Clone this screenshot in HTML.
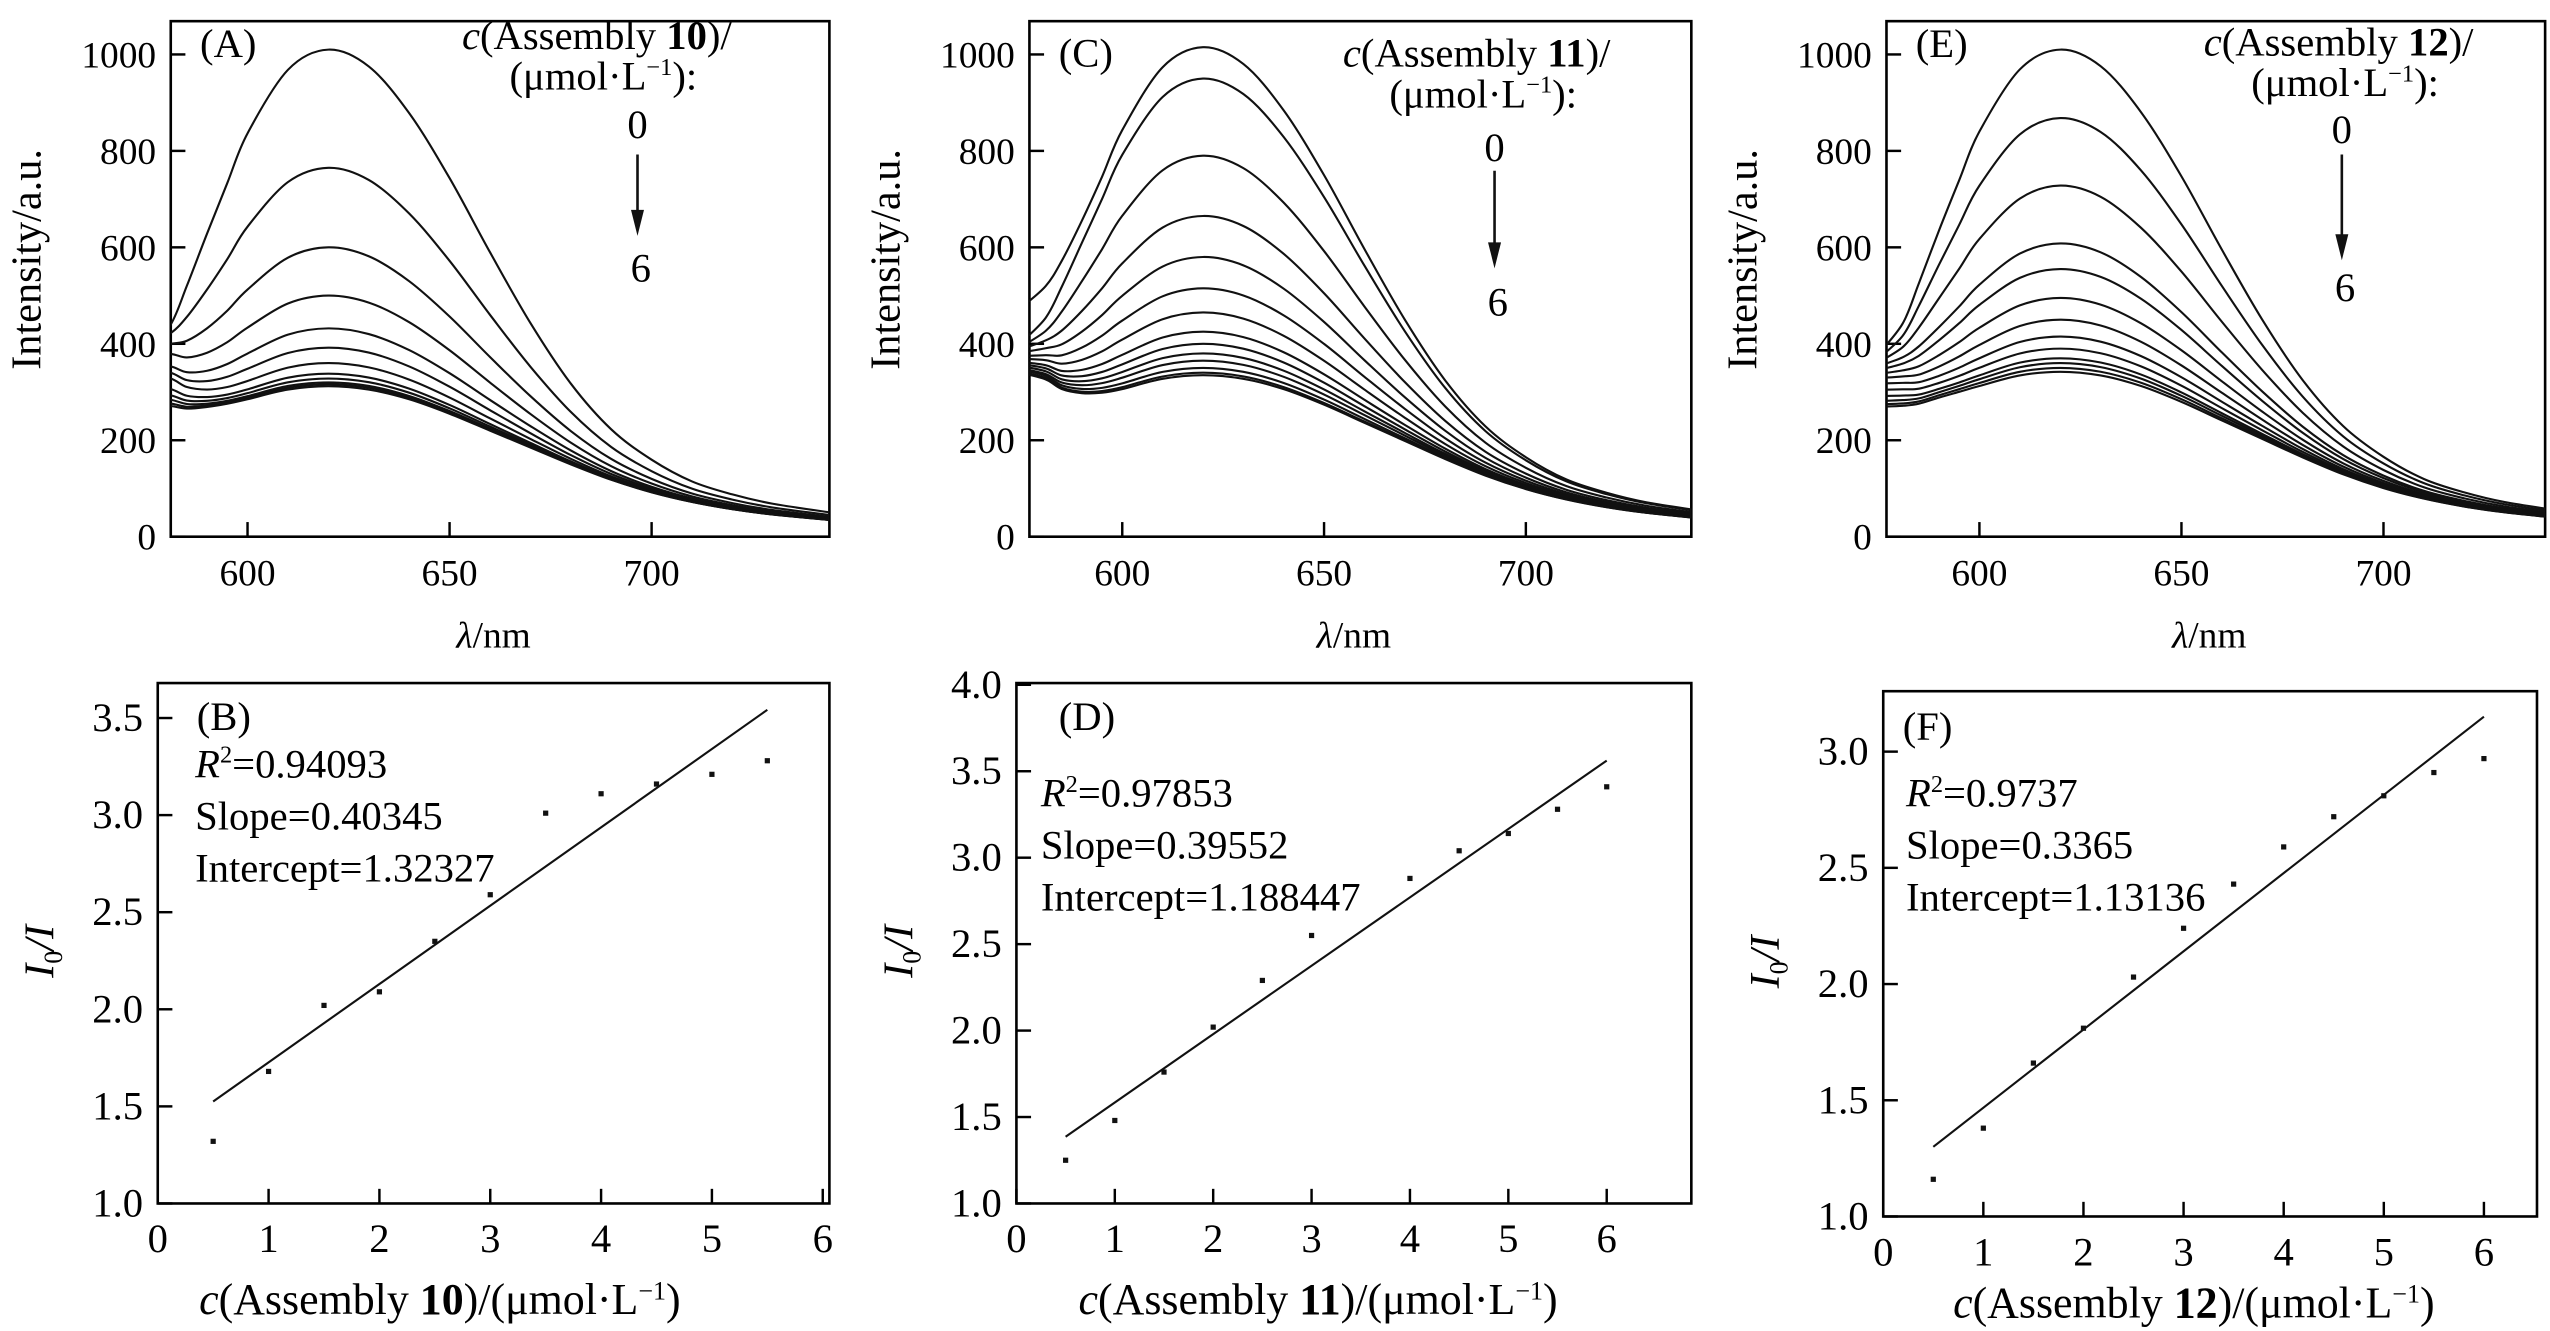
<!DOCTYPE html>
<html><head><meta charset="utf-8">
<style>
html,body{margin:0;padding:0;background:#fff;}
svg{display:block;font-family:"Liberation Serif",serif;}
</style></head>
<body>
<svg id="fig" width="2550" height="1331" viewBox="0 0 1568 818.4" xmlns="http://www.w3.org/2000/svg">
<defs>
<clipPath id="clipA"><rect x="105" y="13" width="405" height="317"/></clipPath>
<clipPath id="clipC"><rect x="633" y="13" width="407" height="317"/></clipPath>
<clipPath id="clipE"><rect x="1160" y="13" width="405" height="317"/></clipPath>
</defs>
<g id="root"></g>
</svg>
<script>
// ---- spectral data (shared shapes) ----
const wavelengths = [575,581,585,590,595,600,610,620,630,640,650,660,670,680,690,700,710,720,730,745];
const baselineShape = [280,275,268,270,276,285,305,312,305,285,255,220,185,150,118,92,72,57,46,34];
const humpShape = [0.22,0.30,0.40,0.53,0.66,0.79,0.95,1.0,0.96,0.85,0.70,0.53,0.37,0.24,0.15,0.097,0.061,0.044,0.032,0.022];
const edgeShape = [1.25,1,0.6,0.25,0.07,0,0,0,0,0,0,0,0,0,0,0,0,0,0,0];
// per-curve peak intensities and left-edge intensities
const peaksA = [1010,765,600,500,432,392,360,338,328,320,316,312];
const leftsA = [440,422,400,379,353,340,328,306,293,284,276,271];
const peaksC = [1015,950,790,665,580,515,465,425,400,380,365,350,340,335];
const leftsC = [490,420,405,395,385,375,368,360,355,350,345,342,338,335];
const peaksE = [1010,868,728,608,555,495,450,415,390,370,360,350,342];
const leftsE = [400,385,372,360,350,340,330,318,305,292,282,275,270];
// ---- Stern-Volmer data ----
const concB = [0.5,1,1.5,2,2.5,3,3.5,4,4.5,5,5.5];
const ratioB = [1.32,1.68,2.02,2.09,2.35,2.59,3.01,3.11,3.16,3.21,3.28];
const fitB = [1.32327,0.40345];
const concD = [0.5,1,1.5,2,2.5,3,4,4.5,5,5.5,6];
const ratioD = [1.25,1.48,1.76,2.02,2.29,2.55,2.88,3.04,3.14,3.28,3.41];
const fitD = [1.188447,0.39552];
const concF = [0.5,1,1.5,2,2.5,3,3.5,4,4.5,5,5.5,6];
const ratioF = [1.16,1.38,1.66,1.81,2.03,2.24,2.43,2.59,2.72,2.81,2.91,2.97];
const fitF = [1.13136,0.3365];
const specYTicks = [0,200,400,600,800,1000];
const specXTicks = [600,650,700];
const ticksB = [1.0,1.5,2.0,2.5,3.0,3.5];
const ticksD = [1.0,1.5,2.0,2.5,3.0,3.5,4.0];
const ticksF = [1.0,1.5,2.0,2.5,3.0];
const concTicks = [0,1,2,3,4,5,6];

const NS="http://www.w3.org/2000/svg";
const root=document.getElementById('root');
function mk(tag,attrs,parent){const e=document.createElementNS(NS,tag);for(const k in attrs)e.setAttribute(k,attrs[k]);(parent||root).appendChild(e);return e;}
function interp(xs,ys,x){if(x<=xs[0])return ys[0];for(let i=1;i<xs.length;i++){if(x<=xs[i]){const t=(x-xs[i-1])/(xs[i]-xs[i-1]);return ys[i-1]+t*(ys[i]-ys[i-1]);}}return ys[ys.length-1];}
function smoothPath(pts){let d='M'+pts[0][0].toFixed(2)+','+pts[0][1].toFixed(2);for(let i=0;i<pts.length-1;i++){const p0=pts[Math.max(0,i-1)],p1=pts[i],p2=pts[i+1],p3=pts[Math.min(pts.length-1,i+2)];const c1=[p1[0]+(p2[0]-p0[0])/6,p1[1]+(p2[1]-p0[1])/6],c2=[p2[0]-(p3[0]-p1[0])/6,p2[1]-(p3[1]-p1[1])/6];d+='C'+c1[0].toFixed(2)+','+c1[1].toFixed(2)+' '+c2[0].toFixed(2)+','+c2[1].toFixed(2)+' '+p2[0].toFixed(2)+','+p2[1].toFixed(2);}return d;}
function fmt(v,d){return v.toFixed(d);}

function axes(p,g,xticks,yticks,ydec,xdec,fs){
  const sx=v=>p.x0+(v-p.xmin)/(p.xmax-p.xmin)*(p.x1-p.x0);
  const sy=v=>p.y1-(v-p.ymin)/(p.ymax-p.ymin)*(p.y1-p.y0);
  const box=mk('rect',{x:p.x0,y:p.y0,width:p.x1-p.x0,height:p.y1-p.y0,fill:'none',stroke:'#000','stroke-width':1.6},g);
  
  yticks.forEach(v=>{const y=sy(v);
    const t=mk('line',{x1:p.x0,x2:p.x0+9,y1:y,y2:y,stroke:'#000','stroke-width':1.5},g);
    
    const l=mk('text',{x:p.x0-9,y:y+8,'text-anchor':'end','font-size':fs},g);l.textContent=fmt(v,ydec);
    });
  xticks.forEach(v=>{const x=sx(v);
    const t=mk('line',{x1:x,x2:x,y1:p.y1,y2:p.y1-9,stroke:'#000','stroke-width':1.5},g);
    
    const l=mk('text',{x:x,y:p.y1+30,'text-anchor':'middle','font-size':fs},g);l.textContent=fmt(v,xdec);
    });
  return {sx,sy};
}

function spectra(p,peaks,lefts,clip,num,letter,legend){
  const g=mk('g',{});
  const {sx,sy}=axes(p,g,specXTicks,specYTicks,0,0,23);
  const cg=mk('g',{'clip-path':'url(#'+clip+')'},g);
  const base=peaks[peaks.length-1];
  peaks.forEach((pk,i)=>{
    const v0=interp(wavelengths,baselineShape,p.xmin)*base/312+(pk-base)*interp(wavelengths,humpShape,p.xmin);
    const adj=(lefts[i]-v0)/interp(wavelengths,edgeShape,p.xmin);
    const pts=wavelengths.map((w,j)=>[sx(w),sy(baselineShape[j]*base/312+(pk-base)*humpShape[j]+adj*edgeShape[j])]);
    const path=mk('path',{d:smoothPath(pts),fill:'none',stroke:'#111','stroke-width':1.3},cg);
    
  });
  const yt=mk('text',{transform:'translate('+(p.x0-80)+','+((p.y0+p.y1)/2-12)+') rotate(-90)','text-anchor':'middle','font-size':26},g);
  yt.textContent='Intensity/a.u.';
  const xt=mk('text',{x:(p.x0+p.x1)/2-4,y:p.y1+68,'text-anchor':'middle','font-size':23},g);
  xt.innerHTML='<tspan font-style="italic">λ</tspan>/nm';
  const lb=mk('text',{x:p.x0+18,y:p.y0+legend.ly,'font-size':25},g);lb.textContent='('+letter+')';
  
  const l1=mk('text',{x:legend.cx,y:legend.y,'text-anchor':'middle','font-size':25},g);
  l1.innerHTML='<tspan font-style="italic">c</tspan>(Assembly <tspan font-weight="bold">'+num+'</tspan>)/';
  
  const l2=mk('text',{x:legend.cx+4,y:legend.y+25,'text-anchor':'middle','font-size':25},g);
  l2.innerHTML='(μmol·L<tspan font-size="15" dy="-9">−1</tspan><tspan dy="9">):</tspan>';
  
  const z=mk('text',{x:legend.ax,y:legend.y+legend.z,'text-anchor':'middle','font-size':25},g);z.textContent='0';
  
  const ar=mk('line',{x1:legend.ax,x2:legend.ax,y1:legend.y+legend.a0,y2:legend.y+legend.a1-8,stroke:'#111','stroke-width':1.6},g);
  
  const ah=mk('polygon',{points:(legend.ax-4)+','+(legend.y+legend.a1-16)+' '+(legend.ax+4)+','+(legend.y+legend.a1-16)+' '+legend.ax+','+(legend.y+legend.a1),fill:'#111'},g);
  
  const s=mk('text',{x:legend.ax+2,y:legend.y+legend.s,'text-anchor':'middle','font-size':25},g);s.textContent='6';
  
}

function sv(p,conc,ratio,fit,yticks,letter,num,ty){
  const g=mk('g',{});
  const {sx,sy}=axes(p,g,concTicks,yticks,1,0,25);
  conc.forEach((c,i)=>{const r=mk('rect',{x:sx(c)-1.6,y:sy(ratio[i])-1.6,width:3.2,height:3.2,fill:'#111'},g);
    });
  const c0=conc[0],c1=conc[conc.length-1];
  const fl=mk('line',{x1:sx(c0),y1:sy(fit[0]+fit[1]*c0),x2:sx(c1),y2:sy(fit[0]+fit[1]*c1),stroke:'#111','stroke-width':1.3},g);
  
  const yt=mk('text',{transform:'translate('+(p.x0-64)+','+((p.y0+p.y1)/2+5)+') rotate(-90)','text-anchor':'middle','font-size':26,'font-style':'italic'},g);
  yt.innerHTML='I<tspan font-size="16" dy="5" font-style="normal">0</tspan><tspan dy="-5">/I</tspan>';
  
  const xt=mk('text',{x:(p.x0+p.x1)/2+(p.tx||0),y:p.y1+(p.ty||68),'text-anchor':'middle','font-size':27},g);
  xt.innerHTML='<tspan font-style="italic">c</tspan>(Assembly <tspan font-weight="bold">'+num+'</tspan>)/(μmol·L<tspan font-size="16" dy="-9">−1</tspan><tspan dy="9">)</tspan>';
  
  const lb=mk('text',{x:p.x0+ty.lx,y:ty.l,'font-size':25},g);lb.textContent='('+letter+')';
  
  const r2=mk('text',{x:p.x0+ty.x,y:ty.r,'font-size':25},g);
  r2.innerHTML='<tspan font-style="italic">R</tspan><tspan font-size="15" dy="-9">2</tspan><tspan dy="9">='+ty.R+'</tspan>';
  
  const sl=mk('text',{x:p.x0+ty.x,y:ty.r+32,'font-size':25},g);sl.textContent='Slope='+ty.S;
  
  const ic=mk('text',{x:p.x0+ty.x,y:ty.r+64,'font-size':25},g);ic.textContent='Intercept='+ty.I;
  
}

spectra({x0:105,x1:510,y0:13,y1:330,xmin:581,xmax:744,ymin:0,ymax:1069},peaksA,leftsA,'clipA',10,'A',{ly:22,cx:367,y:30,ax:392,z:55,a0:65,a1:115,s:143});
spectra({x0:633,x1:1040,y0:13,y1:330,xmin:577,xmax:741,ymin:0,ymax:1069},peaksC,leftsC,'clipC',11,'C',{ly:28,cx:908,y:41,ax:919,z:58,a0:64,a1:124,s:153});
spectra({x0:1160,x1:1565,y0:13,y1:330,xmin:577,xmax:740,ymin:0,ymax:1069},peaksE,leftsE,'clipE',12,'E',{ly:22,cx:1438,y:34,ax:1440,z:54,a0:61,a1:126,s:151});

sv({x0:97,x1:510,y0:420,y1:740,xmin:0,xmax:6.06,ymin:1,ymax:3.68,tx:-33},concB,ratioB,fitB,ticksB,'B',10,{lx:24,l:449,x:23,r:478,R:'0.94093',S:'0.40345',I:'1.32327'});
sv({x0:625,x1:1040,y0:420,y1:740,xmin:0,xmax:6.86,ymin:1,ymax:4.01,tx:-22},concD,ratioD,fitD,ticksD,'D',11,{lx:26,l:449,x:15,r:496,R:'0.97853',S:'0.39552',I:'1.188447'});
sv({x0:1158,x1:1560,y0:425,y1:748,xmin:0,xmax:6.53,ymin:1,ymax:3.26,tx:-10,ty:62},concF,ratioF,fitF,ticksF,'F',12,{lx:12,l:455,x:14,r:496,R:'0.9737',S:'0.3365',I:'1.13136'});
</script>
</body></html>
